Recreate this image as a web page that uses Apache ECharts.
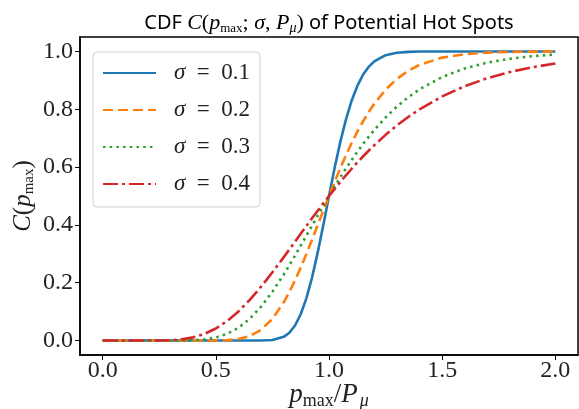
<!DOCTYPE html>
<html><head><meta charset="utf-8">
<script src="https://cdn.jsdelivr.net/npm/echarts@6/dist/echarts.min.js"></script>
<style>html,body{margin:0;padding:0;background:#fff}#c{width:579px;height:409px}</style>
</head><body><div id="c"></div><script>
// x positions (p_max / P_mu) and CDF values
const xs = [0, 0.1, 0.2, 0.3, 0.35, 0.4, 0.45, 0.5, 0.55, 0.6, 0.65, 0.7, 0.75, 0.8, 0.825, 0.85, 0.875, 0.9, 0.925, 0.95, 0.975, 1.0, 1.025, 1.05, 1.075, 1.1, 1.125, 1.15, 1.175, 1.2, 1.25, 1.3, 1.35, 1.4, 1.5, 1.6, 1.7, 1.8, 1.9, 2.0];
const sigma01 = [0, 0, 0, 0, 0, 0, 0, 0, 0, 0, 0, 0.0002, 0.002, 0.0128, 0.0272, 0.0521, 0.0909, 0.146, 0.2177, 0.304, 0.4001, 0.5, 0.5975, 0.6872, 0.7652, 0.8297, 0.8806, 0.919, 0.9466, 0.9658, 0.9872, 0.9957, 0.9987, 0.9996, 1, 1, 1, 1, 1, 1];
const sigma02 = [0, 0, 0, 0, 0, 0, 0, 0.0003, 0.0014, 0.0053, 0.0156, 0.0372, 0.0752, 0.1322, 0.168, 0.2083, 0.2522, 0.2991, 0.3483, 0.3988, 0.4497, 0.5, 0.5491, 0.5964, 0.6411, 0.6832, 0.7221, 0.7577, 0.79, 0.819, 0.8677, 0.9052, 0.9333, 0.9538, 0.9787, 0.9906, 0.996, 0.9984, 0.9993, 0.9997];
const sigma03 = [0, 0, 0, 0, 0.0002, 0.0011, 0.0039, 0.0104, 0.0231, 0.0443, 0.0755, 0.1172, 0.1688, 0.2285, 0.2607, 0.294, 0.3282, 0.3627, 0.3974, 0.4321, 0.4664, 0.5, 0.5328, 0.5646, 0.5952, 0.6246, 0.6527, 0.6794, 0.7046, 0.7283, 0.7715, 0.8091, 0.8414, 0.869, 0.9118, 0.9414, 0.9615, 0.975, 0.9838, 0.9896];
const sigma04 = [0, 0, 0, 0.0013, 0.0043, 0.011, 0.023, 0.0416, 0.0675, 0.1008, 0.1407, 0.1862, 0.236, 0.2885, 0.3153, 0.3423, 0.3693, 0.3961, 0.4227, 0.449, 0.4748, 0.5, 0.5246, 0.5486, 0.5717, 0.5942, 0.6158, 0.6366, 0.6566, 0.6757, 0.7115, 0.7441, 0.7735, 0.7999, 0.8447, 0.88, 0.9077, 0.9291, 0.9457, 0.9584];
const seriesNames = ['σ = 0.1', 'σ = 0.2', 'σ = 0.3', 'σ = 0.4'];
const xTicks = [0, 0.5, 1.0, 1.5, 2.0];
const yTicks = [0, 0.2, 0.4, 0.6, 0.8, 1.0];

const allValues = [sigma01, sigma02, sigma03, sigma04];
const colors = ['#1f77b4', '#ff7f0e', '#2ca02c', '#d62728'];
const dashes = ['solid', [10, 5], [2.5, 4.2], [15, 4, 3, 4]];

const SERIF = 'Liberation Serif';
const mathRich = {
  m: {fontFamily: SERIF, fontSize: 27, color: '#222'},
  mi: {fontFamily: SERIF, fontStyle: 'italic', fontSize: 27, color: '#222'},
  sub: {fontFamily: SERIF, fontSize: 18, color: '#222', padding: [13, 0, 0, 0]},
  subi: {fontFamily: SERIF, fontStyle: 'italic', fontSize: 18, color: '#222', padding: [13, 0, 0, 2]}
};
const yRich = {
  m: {fontFamily: SERIF, fontSize: 25, color: '#222'},
  mi: {fontFamily: SERIF, fontStyle: 'italic', fontSize: 25, color: '#222'},
  sub: {fontFamily: SERIF, fontSize: 15, color: '#222', padding: [12, 0, 0, 0]}
};

const chart = echarts.init(document.getElementById('c'), null, {renderer: 'canvas'});
chart.setOption({
  animation: false,
  backgroundColor: '#fff',
  grid: {left: 80, right: 1, top: 37, bottom: 54, show: true, borderColor: '#000', borderWidth: 1.5, outerBoundsMode: 'none', containLabel: false},
  graphic: [{
    type: 'text', x: 329, y: 23,
    style: {
      text: '{s|CDF }{mi|C}{m|(}{mi|p}{sub|max}{m|; }{mi|σ}{m|, }{mi|P}{subi|μ}{m|)}{s| of Potential Hot Spots}',
      align: 'center', verticalAlign: 'middle',
      rich: {
        s: {fontFamily: 'Noto Sans', fontSize: 20, color: '#222'},
        m: {fontFamily: SERIF, fontSize: 22, color: '#222'},
        mi: {fontFamily: SERIF, fontStyle: 'italic', fontSize: 22, color: '#222'},
        sub: {fontFamily: SERIF, fontSize: 13, color: '#222', padding: [11, 0, 0, 0]},
        subi: {fontFamily: SERIF, fontStyle: 'italic', fontSize: 14, color: '#222', padding: [11, 0, 0, 0]}
      }
    }
  }],
  legend: {
    orient: 'vertical', left: 93, top: 52,
    itemWidth: 53, itemHeight: 14, itemGap: 13,
    padding: [9, 10, 11, 9],
    borderColor: '#d0d0d0', borderWidth: 1, borderRadius: 4,
    backgroundColor: 'rgba(255,255,255,0.8)',
    itemStyle: {color: 'rgba(0,0,0,0)', borderColor: 'rgba(0,0,0,0)', borderWidth: 0, opacity: 0},
    data: seriesNames,
    formatter: n => '{i|σ}{t|  =  ' + n.split('= ')[1] + '}',
    textStyle: {
      padding: [0, 0, 0, 13], lineHeight: 24,
      rich: {
        i: {fontFamily: SERIF, fontStyle: 'italic', fontSize: 23, color: '#222'},
        t: {fontFamily: SERIF, fontSize: 23, color: '#222'}
      }
    }
  },
  xAxis: {
    type: 'value', min: -0.1, max: 2.1,
    axisLine: {show: true, onZero: false, lineStyle: {color: '#000', width: 1.5}},
    axisTick: {show: true, customValues: xTicks, length: 5, lineStyle: {color: '#000', width: 1}},
    axisLabel: {customValues: xTicks, formatter: v => v.toFixed(1), fontFamily: SERIF, fontSize: 24, color: '#222', margin: 4},
    splitLine: {show: false},
    name: '{mi|p}{sub|max}{m|/}{mi|P}{subi|μ}', nameLocation: 'middle', nameGap: 24, nameMoveOverlap: false,
    nameTextStyle: {rich: mathRich}
  },
  yAxis: {
    type: 'value', min: -0.05, max: 1.05,
    axisLine: {show: true, onZero: false, lineStyle: {color: '#000', width: 1.5}},
    axisTick: {show: true, customValues: yTicks, length: 5, lineStyle: {color: '#000', width: 1}},
    axisLabel: {customValues: yTicks, formatter: v => v.toFixed(1), fontFamily: SERIF, fontSize: 24, color: '#222', margin: 7},
    splitLine: {show: false},
    name: '{mi|C}{m|(}{mi|p}{sub|max}{m|)}', nameLocation: 'middle', nameGap: 43, nameRotate: 90, nameMoveOverlap: false,
    nameTextStyle: {rich: yRich}
  },
  series: allValues.map((vals, k) => ({
    name: seriesNames[k], type: 'line', showSymbol: false, symbol: 'none',
    smooth: false,
    data: xs.map((x, i) => [x, vals[i]]),
    lineStyle: {color: colors[k], width: 2.6, type: dashes[k], cap: 'butt'},
    itemStyle: {color: colors[k]},
    z: 2 + k
  }))
});
</script></body></html>
